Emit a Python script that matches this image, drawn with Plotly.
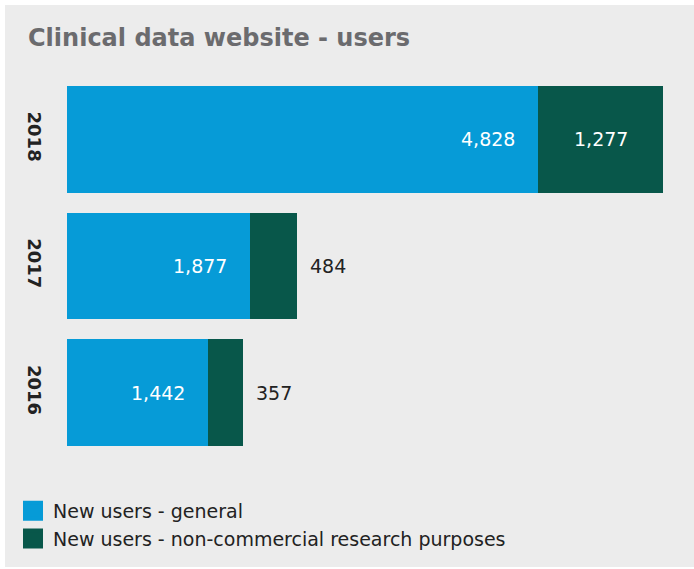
import plotly.graph_objects as go

years = ["2016", "2017", "2018"]
general = [1442, 1877, 4828]
research = [357, 484, 1277]
research_label_pos = ["outside", "outside", "inside"]
series_names = ["New users - general", "New users - non-commercial research purposes"]
title_text = "Clinical data website - users"

BLUE = "#069BD7"
GREEN = "#08574A"
BG = "#ECECEC"
FONT = "Verdana, DejaVu Sans, sans-serif"

W, H = 694, 569
L, R, T, B = 67, 31, 76, 113
pw, ph = W - L - R, H - T - B

fig = go.Figure()
fig.add_trace(go.Bar(y=years, x=general, orientation="h", name=series_names[0],
                     showlegend=False, marker=dict(color=BLUE, line=dict(width=0))))
fig.add_trace(go.Bar(y=years, x=research, orientation="h", name=series_names[1],
                     showlegend=False, marker=dict(color=GREEN, line=dict(width=0))))
# legend entries with larger square swatches
for name, col in zip(series_names, [BLUE, GREEN]):
    fig.add_trace(go.Scatter(x=[None], y=[None], mode="markers", name=name, showlegend=True,
                             marker=dict(symbol="square", size=16, color=col,
                                         line=dict(width=4, color=col))))

annotations = []
for i, (g, r, pos) in enumerate(zip(general, research, research_label_pos)):
    annotations.append(dict(x=g, y=i, xref="x", yref="y", text=f"{g:,}", showarrow=False,
                            xanchor="right", xshift=-21,
                            font=dict(family=FONT, size=19, color="white")))
    if pos == "inside":
        annotations.append(dict(x=g + r / 2, y=i, xref="x", yref="y", text=f"{r:,}",
                                showarrow=False, xanchor="center",
                                font=dict(family=FONT, size=19, color="white")))
    else:
        annotations.append(dict(x=g + r, y=i, xref="x", yref="y", text=f"{r:,}",
                                showarrow=False, xanchor="left", xshift=11,
                                font=dict(family=FONT, size=19, color="#222222")))

annotations.append(dict(text=f"<b>{title_text}</b>", xref="paper", yref="paper",
                        x=(26 - L) / pw, y=1 + (T - 38) / ph, xanchor="left", yanchor="middle",
                        showarrow=False, font=dict(family=FONT, size=24, color="#6B6B6E")))

fig.update_layout(
    width=W, height=H,
    margin=dict(l=L, r=R, t=T, b=B, pad=0, autoexpand=False),
    paper_bgcolor="white",
    plot_bgcolor=BG,
    barmode="stack",
    bargap=0.16,
    showlegend=True,
    legend=dict(x=(13 - L) / pw, y=-(492 - T - ph) / ph,
                xanchor="left", yanchor="top", orientation="v",
                font=dict(family=FONT, size=19, color="#222222"),
                bgcolor="rgba(0,0,0,0)", traceorder="normal", tracegroupgap=0),
    xaxis=dict(range=[0, general[-1] + research[-1]], visible=False, fixedrange=True,
               automargin=False),
    yaxis=dict(type="category", categoryorder="array", categoryarray=years,
               range=[-0.5, len(years) - 0.5], autorange=False, fixedrange=True,
               showgrid=False, zeroline=False, showline=False, ticks="", automargin=False,
               tickangle=90, ticklabelstandoff=20,
               tickfont=dict(family=FONT, size=18, color="#222222", weight="bold")),
    annotations=annotations,
    shapes=[dict(type="rect", xref="paper", yref="paper", layer="below",
                 x0=(5 - L) / pw, x1=(W - L) / pw, y0=-(H - 2 - T - ph) / ph, y1=1 + (T - 5) / ph,
                 fillcolor=BG, line=dict(width=0))],
)

fig.write_html("out.html", post_script="document.body.style.margin='0';",
               config={"displayModeBar": False})
